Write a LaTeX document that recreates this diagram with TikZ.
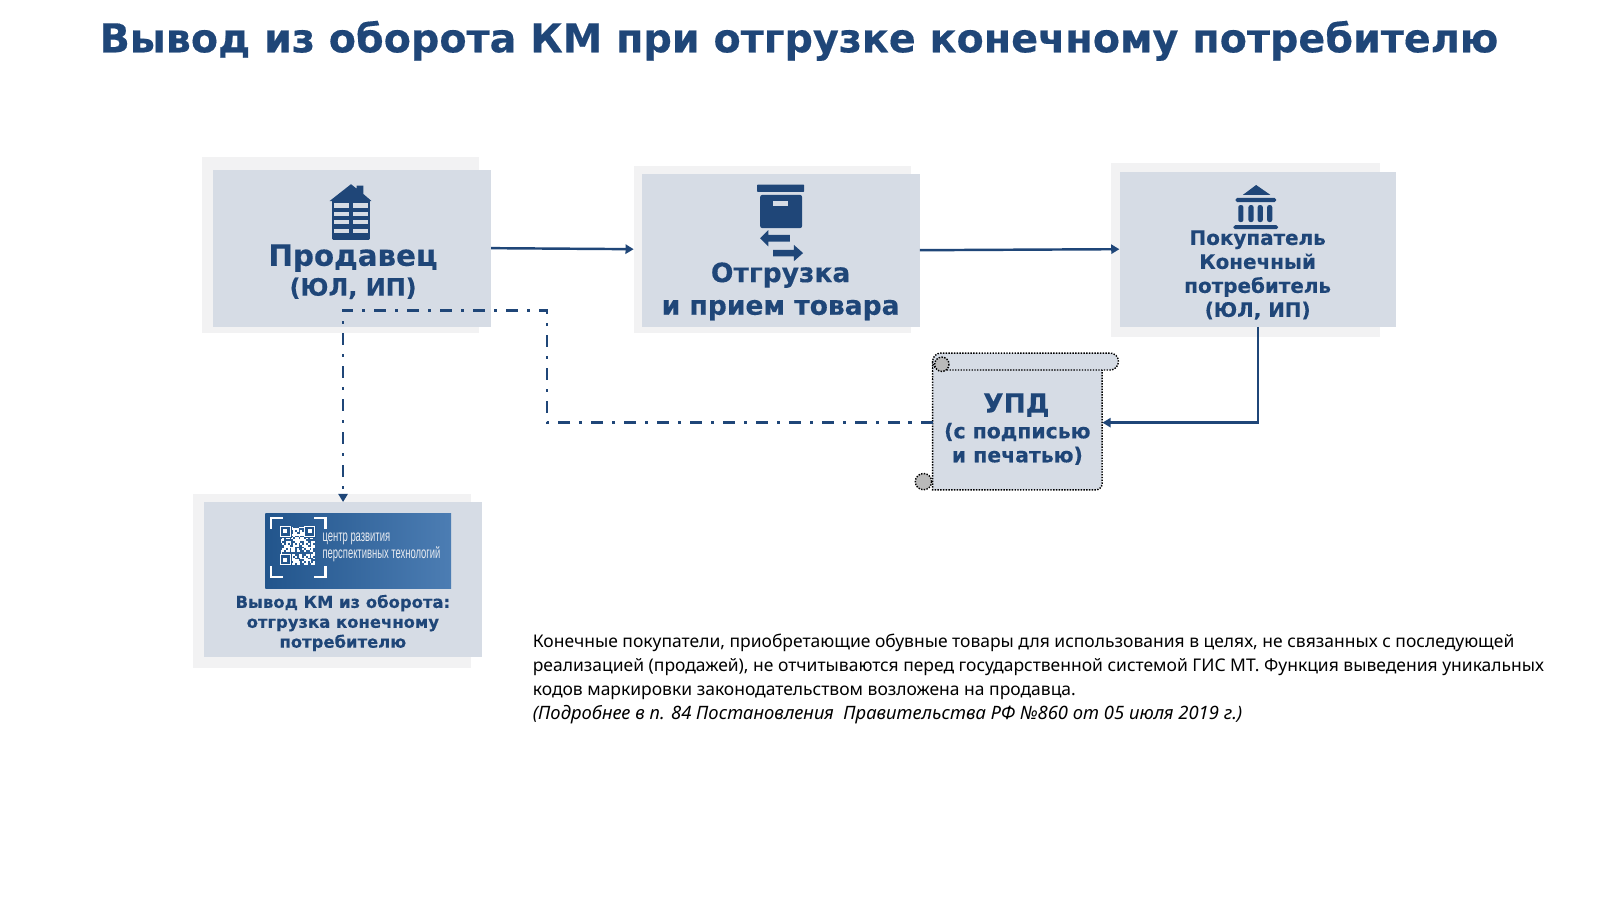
\documentclass[tikz,border=0pt]{standalone}
\usepackage{fontspec}
\setmainfont{DejaVu Sans}[BoldFeatures={FakeBold=0.35}]
\newfontfamily\bodyfont{Noto Sans}
\newfontfamily\narrowfont{Liberation Sans}
\usetikzlibrary{arrows.meta}
\definecolor{navy}{HTML}{1F4678}
\definecolor{panel}{HTML}{D6DCE5}
\definecolor{halo}{HTML}{F2F2F3}
\definecolor{imgleft}{HTML}{22558C}
\definecolor{imgright}{HTML}{4C7DB3}
\tikzset{
  x=1pt,y=-1pt,
  halobox/.style={fill=halo,draw=none,inner sep=0pt,anchor=north west},
  panelbox/.style={fill=panel,draw=none,inner sep=0pt,anchor=north west},
  txt/.style 2 args={text=navy,align=center,inner sep=0pt,font=\fontsize{#1}{#2}\selectfont\bfseries},
  icon/.style={fill=navy,draw=none},
  hole/.style={fill=panel,draw=none},
  flow/.style={draw=navy,line width=2.4pt,-{Triangle[length=8pt,width=9pt]}},
  dashflow/.style={draw=navy,line width=2.6pt,dash pattern=on 11.5pt off 9pt on 3.2pt off 8.6pt,-{Triangle[length=8pt,width=9pt]}},
  scrollline/.style={draw=black,line width=1.4pt,dash pattern=on 1.4pt off 1.3pt},
  imgtxt/.style={text=white!90!navy,anchor=west,inner sep=0pt,xscale=.66,yscale=1.12,font=\fontsize{14}{16}\selectfont\narrowfont},
}
\begin{document}
\begin{tikzpicture}
\useasboundingbox (0,0) rectangle (1568,882);
\fill[white] (0,0) rectangle (1568,882);
% title
\node[txt={38.9}{46}] (title) at (783,40) {Вывод из оборота КМ при отгрузке конечному потребителю};
% halos
\node[halobox,minimum width=271pt,minimum height=172pt] (sellerhalo) at (198,154) {};
\node[halobox,minimum width=272pt,minimum height=164pt] (shiphalo) at (621,162) {};
\node[halobox,minimum width=263pt,minimum height=170pt] (buyerhalo) at (1089,160) {};
\node[halobox,minimum width=272pt,minimum height=170pt] (kmhalo) at (189,484) {};
% panels
\node[panelbox,minimum width=272pt,minimum height=154pt] (seller) at (209,166) {};
\node[panelbox,minimum width=272pt,minimum height=150pt] (ship) at (629,170) {};
\node[panelbox,minimum width=271pt,minimum height=152pt] (buyer) at (1097,168) {};
\node[panelbox,minimum width=272pt,minimum height=152pt] (km) at (200,492) {};
% building icon
\fill[icon] (323,197) -- (344,180.5) -- (349.6,185) -- (349.6,182) -- (356,182) -- (356,190) -- (364,197) -- cycle;
\fill[icon,rounded corners=1pt] (325.5,195) rectangle (362.5,235);
\foreach \ya/\yb in {199/204,207.5/212,215.6/219.7,224.5/228.5}{
  \fill[hole] (327.6,\ya) rectangle (341.6,\yb);
  \fill[hole] (346,\ya) rectangle (360.4,\yb);
}
% box icon
\fill[icon,rounded corners=.6pt] (742,181) rectangle (788,188);
\fill[icon,rounded corners=2pt] (745,191) rectangle (786,223.6);
\fill[hole] (757.8,197) rectangle (772,202);
\fill[icon] (745,233.5) -- (753,225.5) -- (753,230.3) -- (774,230.3) -- (774,236.7) -- (753,236.7) -- (753,241.5) -- cycle;
\fill[icon] (787,248) -- (778,240) -- (778,244.8) -- (757.7,244.8) -- (757.7,251.2) -- (778,251.2) -- (778,256) -- cycle;
% bank icon
\fill[icon] (1231,181.3) -- (1245,191) -- (1218,191) -- cycle;
\fill[icon,rounded corners=1.5pt] (1211,194) rectangle (1250.5,198);
\foreach \xa in {1213.5,1223.5,1232.5,1241.8}{
  \fill[icon,rounded corners=2pt] (\xa,201) rectangle ++(5,16.6);
}
\fill[icon,rounded corners=1.8pt] (1208.6,220.7) rectangle (1252.6,224.6);
% panel texts
\node[txt={28.7}{32}] (sellertxt) at (346,253) {Продавец};
\node[txt={23.4}{28}] (sellersub) at (346,282.5) {(ЮЛ, ИП)};
\node[txt={26}{32}] (shiptxt) at (765,285.5) {Отгрузка\\и прием товара};
\node[txt={19.5}{23.5}] (buyertxt) at (1232.5,269.5) {Покупатель\\Конечный\\потребитель\\(ЮЛ, ИП)};
% image
\shade[left color=imgleft,right color=imgright] (260,503.7) rectangle (442,577);
\node[inner sep=0pt,minimum width=182pt,minimum height=73.3pt,anchor=north west] (qrimage) at (260,503.7) {};
\begin{scope}[white]
\draw[line width=2pt] (266,518) -- (266,508) -- (277,508);
\draw[line width=2pt] (308,508) -- (319,508) -- (319,518);
\draw[line width=2pt] (266,555) -- (266,565) -- (277,565);
\draw[line width=2pt] (308,565) -- (319,565) -- (319,555);
\foreach \ci in {0,...,18}{\foreach \cj in {0,...,20}{
  \pgfmathtruncatemacro\bit{mod(mod(\ci*\ci,19)*7+mod(\cj*\cj,23)*11+mod(\ci*\cj,17)*5+\ci+\cj,7)}
  \ifnum\bit>2 \fill (275+\ci*1.77,516+\cj*1.79) rectangle ++(1.77,1.79);\fi
}}
\foreach \qx/\qy in {275/516,275/543.7,298.7/516}{
  \fill[imgleft] (\qx-1,\qy-1) rectangle ++(12,12);
  \draw[line width=1.1pt] (\qx,\qy) rectangle ++(9.5,9.5);
  \fill (\qx+2.8,\qy+2.8) rectangle ++(3.9,3.9);
}
\end{scope}
\node[imgtxt] (imgtxt1) at (316,528) {центр развития};
\node[imgtxt] (imgtxt2) at (316,543) {перспективных технологий};
\node[txt={16.1}{19.5}] (kmtxt) at (336,610.5) {Вывод КМ из оборота:\\отгрузка конечному\\потребителю};
% scroll
\draw[scrollline,fill=panel] (914,355) -- (914,480) [rounded corners=6pt] -- (1080,480) [sharp corners] -- (1080,355) -- cycle;
\draw[scrollline,fill=panel,rounded corners=8pt] (914,346) rectangle (1096,362.6);
\fill[panel] (915,361) rectangle (925,372);
\draw[scrollline] (914,360) -- (914,372);
\draw[scrollline,fill=black!27] (923,357) circle[radius=7];
\draw[scrollline,fill=black!27] (905,472) circle[radius=8];
\node[inner sep=0pt,minimum width=166pt,minimum height=94pt,anchor=north west] (upd) at (914,367) {};
\node[txt={26}{32}] (updtxt) at (996,397) {УПД};
\node[txt={20}{23.5}] (updsub) at (997,435) {(с подписью\\и печатью)};
% paragraph
\node[anchor=north west,inner sep=0pt,align=left,text=black,font=\fontsize{17.12}{23.5}\selectfont\bodyfont] (note) at (522,621.5) {Конечные покупатели, приобретающие обувные товары для использования в целях, не связанных с последующей\\
реализацией (продажей), не отчитываются перед государственной системой ГИС МТ. Функция выведения уникальных\\
кодов маркировки законодательством возложена на продавца.\\
\fontsize{18.05}{23.5}\selectfont\itshape (Подробнее в п. 84 Постановления\ \ Правительства РФ №860 от 05 июля 2019 г.)};
% connectors
\coordinate (turn) at (536,304);
\draw[flow] (seller.east) -- (shiphalo.west);
\draw[flow] (ship.east) -- (buyer.west);
\draw[flow] (buyer.south) |- (upd.east);
\draw[dashflow] (upd.west) -| (turn) -| (km.north);
\end{tikzpicture}
\end{document}
